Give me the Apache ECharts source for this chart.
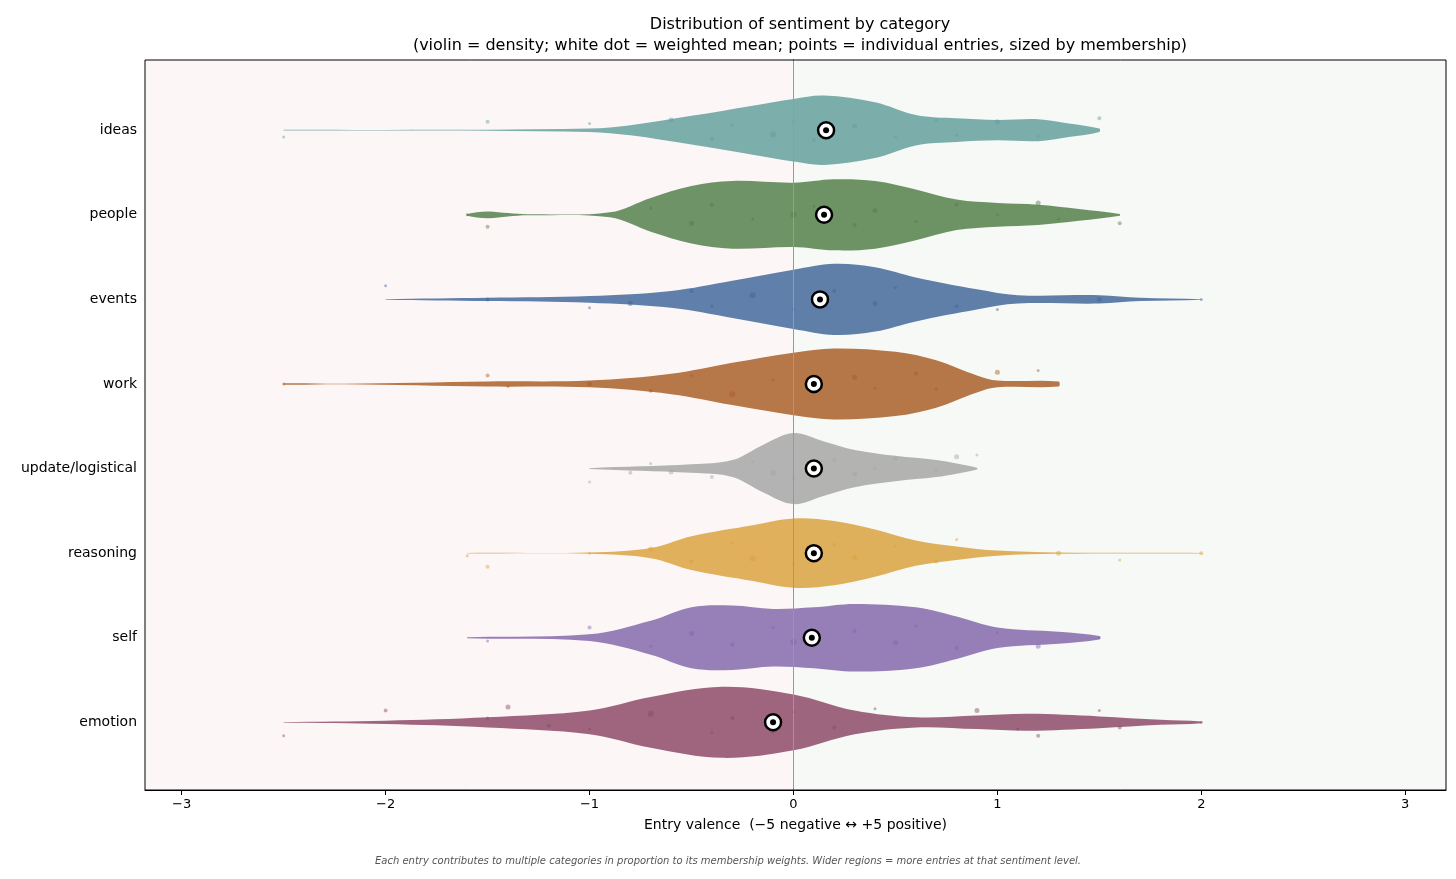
<!DOCTYPE html>
<html>
<head>
<meta charset="utf-8">
<script src="https://cdn.jsdelivr.net/npm/echarts@6/dist/echarts.min.js"></script>
<style>html,body{margin:0;padding:0;background:#fff}#main{width:1456px;height:879px}</style>
</head>
<body>
<div id="main"></div>
<script>
var categories = ['ideas', 'people', 'events', 'work', 'update/logistical', 'reasoning', 'self', 'emotion'];
var colors = ['#5f9e9b', '#4e7d45', '#3d6498', '#a65a22', '#a3a3a3', '#d9a03a', '#8064a8', '#8a4464'];
var means = [0.16, 0.15, 0.13, 0.10, 0.10, 0.10, 0.09, -0.10];
var xTicks = [-3, -2, -1, 0, 1, 2, 3];

// violin outlines: valence positions and half-widths (in category units)
var profileX = [
  [-2.5, -2.0, -1.0, -0.8, -0.5, -0.2, 0.0, 0.15, 0.4, 0.6, 0.8, 1.0, 1.2, 1.35, 1.5],
  [-1.6, -1.5, -1.4, -1.3, -0.9, -0.7, -0.5, -0.3, 0.0, 0.2, 0.4, 0.6, 0.8, 1.0, 1.2, 1.4, 1.6],
  [-2.0, -1.5, -1.0, -0.6, -0.3, 0.0, 0.2, 0.4, 0.6, 0.9, 1.1, 1.5, 1.7, 2.0],
  [-2.5, -2.2, -1.5, -1.0, -0.6, -0.3, 0.0, 0.2, 0.5, 0.7, 0.9, 1.0, 1.3],
  [-1.0, -0.5, -0.3, -0.15, 0.0, 0.15, 0.3, 0.5, 0.7, 0.8, 0.9],
  [-1.6, -1.0, -0.7, -0.5, -0.2, 0.0, 0.2, 0.4, 0.6, 0.8, 1.0, 1.3, 2.0],
  [-1.6, -1.0, -0.7, -0.5, -0.3, -0.1, 0.1, 0.3, 0.6, 0.8, 1.0, 1.3, 1.5],
  [-2.5, -2.0, -1.5, -1.0, -0.7, -0.35, 0.0, 0.3, 0.6, 0.9, 1.15, 1.5, 1.8, 2.0]
];
var profileW = [
  [0.004, 0.003, 0.02, 0.06, 0.17, 0.29, 0.37, 0.41, 0.33, 0.18, 0.14, 0.12, 0.13, 0.08, 0.02],
  [0.01, 0.04, 0.02, 0.006, 0.03, 0.2, 0.34, 0.4, 0.38, 0.42, 0.4, 0.3, 0.18, 0.14, 0.12, 0.07, 0.01],
  [0.003, 0.02, 0.04, 0.1, 0.22, 0.35, 0.42, 0.38, 0.26, 0.12, 0.05, 0.05, 0.02, 0.003],
  [0.008, 0.003, 0.03, 0.04, 0.12, 0.25, 0.37, 0.42, 0.38, 0.28, 0.1, 0.04, 0.03],
  [0.005, 0.05, 0.1, 0.28, 0.42, 0.32, 0.22, 0.15, 0.1, 0.06, 0.01],
  [0.003, 0.008, 0.06, 0.2, 0.33, 0.41, 0.38, 0.28, 0.15, 0.08, 0.03, 0.008, 0.003],
  [0.006, 0.04, 0.2, 0.36, 0.38, 0.34, 0.36, 0.4, 0.36, 0.25, 0.12, 0.07, 0.02],
  [0.003, 0.02, 0.06, 0.14, 0.3, 0.42, 0.33, 0.14, 0.06, 0.08, 0.1, 0.07, 0.03, 0.01]
];

// individual entries: valence, vertical jitter, size
var pointsX = [
  [-2.5, -1.5, -1.0, -0.6, -0.4, -0.3, -0.1, 0.0, 0.1, 0.3, 0.5, 0.7, 0.8, 1.0, 1.2, 1.5],
  [-1.6, -1.5, -0.7, -0.5, -0.4, -0.2, 0.0, 0.1, 0.3, 0.4, 0.6, 0.8, 1.0, 1.2, 1.3, 1.6],
  [-2.0, -1.5, -1.0, -0.8, -0.5, -0.4, -0.2, 0.0, 0.2, 0.4, 0.5, 0.8, 1.0, 1.5, 2.0],
  [-2.5, -1.5, -1.4, -1.0, -0.7, -0.5, -0.3, -0.1, 0.1, 0.3, 0.4, 0.6, 0.7, 1.0, 1.2],
  [-1.0, -0.8, -0.7, -0.6, -0.4, -0.2, -0.1, 0.0, 0.2, 0.3, 0.4, 0.5, 0.7, 0.8, 0.9],
  [-1.6, -1.5, -1.0, -0.7, -0.5, -0.3, -0.2, 0.0, 0.2, 0.3, 0.5, 0.7, 0.8, 1.3, 1.6, 2.0],
  [-1.5, -1.0, -0.7, -0.5, -0.3, -0.1, 0.0, 0.1, 0.3, 0.5, 0.6, 0.8, 1.0, 1.2, 1.5],
  [-2.5, -2.0, -1.5, -1.4, -1.2, -1.0, -0.7, -0.4, -0.3, -0.1, 0.0, 0.2, 0.4, 0.9, 1.1, 1.2, 1.5, 1.6, 2.0]
];
var pointsDy = [
  [0.08, -0.1, -0.08, -0.12, 0.1, -0.06, 0.05, -0.1, 0.12, -0.05, 0.08, -0.12, 0.06, -0.1, 0.07, -0.14],
  [0.0, 0.14, -0.08, 0.1, -0.12, 0.05, 0.0, -0.1, 0.12, -0.05, 0.08, -0.12, 0.0, -0.14, 0.05, 0.1],
  [-0.16, 0.0, 0.1, 0.05, -0.1, 0.08, -0.05, 0.12, -0.1, 0.05, -0.14, 0.08, 0.12, 0.0, 0.0],
  [0.0, -0.1, 0.03, 0.0, 0.08, -0.1, 0.12, -0.05, 0.1, -0.08, 0.05, -0.12, 0.06, -0.14, -0.16],
  [0.16, 0.05, -0.06, 0.04, 0.1, -0.08, 0.05, 0.12, -0.1, 0.06, 0.0, -0.12, 0.02, -0.14, -0.16],
  [0.03, 0.16, 0.0, -0.05, 0.1, -0.12, 0.06, 0.12, -0.1, 0.05, -0.08, 0.1, -0.16, 0.0, 0.08, 0.0],
  [0.04, -0.12, 0.1, -0.05, 0.08, -0.12, 0.05, 0.1, -0.08, 0.06, -0.14, 0.12, -0.06, 0.1, 0.0],
  [0.16, -0.14, -0.05, -0.18, 0.04, 0.08, -0.1, 0.12, -0.05, 0.1, -0.12, 0.06, -0.16, -0.14, 0.08, 0.16, -0.14, 0.06, 0.0]
];
var pointsSize = [3, 4, 3, 5, 4, 3, 6, 3, 4, 5, 3, 4, 3, 5, 3, 4, 3, 4, 3];

var xMin = -3.18, xMax = 3.2;
var chart = echarts.init(document.getElementById('main'));

var series = [];
series.push({
  type: 'custom',
  coordinateSystem: 'cartesian2d',
  z: 2,
  data: categories.map(function (c, i) { return [0, i]; }),
  renderItem: function (params, api) {
    var i = params.dataIndex;
    var xs = profileX[i], ws = profileW[i];
    var pts = [];
    for (var k = 0; k < xs.length; k++) pts.push(api.coord([xs[k], i - ws[k]]));
    for (var k = xs.length - 1; k >= 0; k--) pts.push(api.coord([xs[k], i + ws[k]]));
    return {
      type: 'polygon',
      shape: { points: pts, smooth: 0.35 },
      style: { fill: colors[i], opacity: 0.82 }
    };
  },
  markArea: {
    silent: true,
    data: [
      [{ xAxis: xMin, itemStyle: { color: '#fdf6f6' } }, { xAxis: 0 }],
      [{ xAxis: 0, itemStyle: { color: '#f6f9f5' } }, { xAxis: xMax }]
    ]
  },
  markLine: {
    silent: true, symbol: 'none', label: { show: false },
    lineStyle: { color: '#999', width: 1, type: 'solid' },
    data: [{ xAxis: 0 }]
  }
});
categories.forEach(function (c, i) {
  series.push({
    type: 'scatter',
    z: 3,
    data: pointsX[i].map(function (x, k) { return [x, i + pointsDy[i][k]]; }),
    symbolSize: function (v, p) { return pointsSize[p.dataIndex % pointsSize.length]; },
    itemStyle: { color: colors[i], opacity: 0.45 }
  });
});
series.push({
  type: 'scatter', z: 5,
  data: means.map(function (m, i) { return [m, i]; }),
  symbolSize: 16,
  itemStyle: { color: '#fff', borderColor: '#000', borderWidth: 2.5, opacity: 1 }
});
series.push({
  type: 'scatter', z: 6,
  data: means.map(function (m, i) { return [m, i]; }),
  symbolSize: 6,
  itemStyle: { color: '#000', opacity: 1 }
});

chart.setOption({
  animation: false,
  textStyle: { fontFamily: 'DejaVu Sans' },
  title: {
    text: 'Distribution of sentiment by category\n(violin = density; white dot = weighted mean; points = individual entries, sized by membership)',
    left: 795, textAlign: 'center', top: 9,
    textStyle: { fontSize: 16, fontWeight: 'normal', color: '#000', lineHeight: 21 }
  },
  graphic: [{
    type: 'text', left: 'center', top: 856,
    style: { text: 'Each entry contributes to multiple categories in proportion to its membership weights. Wider regions = more entries at that sentiment level.', fill: '#555', fontSize: 10, fontStyle: 'italic', fontFamily: 'DejaVu Sans' }
  }],
  grid: { left: 145, right: 10, top: 60, bottom: 89, show: true, borderColor: '#000', borderWidth: 1, backgroundColor: 'transparent', z: 10 },
  xAxis: {
    type: 'value', min: xMin, max: xMax,
    name: 'Entry valence  (\u22125 negative \u2194 +5 positive)', nameLocation: 'middle', nameGap: 28,
    nameTextStyle: { fontSize: 14, color: '#000' },
    axisLine: { show: true, onZero: false, lineStyle: { color: '#000' } },
    axisTick: { show: true, customValues: xTicks, lineStyle: { color: '#000' } },
    axisLabel: { fontSize: 13, color: '#000', customValues: xTicks,
      formatter: function (v) { return v < 0 ? '\u2212' + Math.abs(v) : '' + v; } },
    splitLine: { show: false }
  },
  yAxis: {
    type: 'value', min: -0.83, max: 7.8, inverse: true,
    axisLine: { show: true, lineStyle: { color: '#000' } },
    axisTick: { show: true, customValues: [0, 1, 2, 3, 4, 5, 6, 7], lineStyle: { color: '#000' } },
    axisLabel: { fontSize: 14, color: '#000', customValues: [0, 1, 2, 3, 4, 5, 6, 7],
      formatter: function (v) { return categories[v] || ''; } },
    splitLine: { show: false }
  },
  series: series
});
</script>
</body>
</html>
